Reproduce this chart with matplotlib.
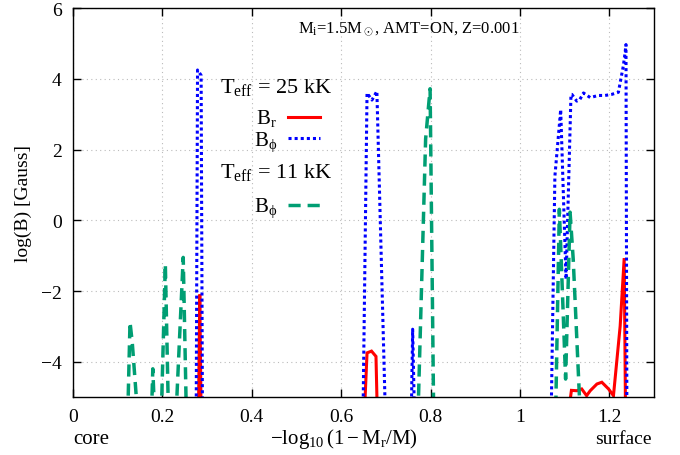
import numpy as np
import matplotlib
matplotlib.use('Agg')
import matplotlib.pyplot as plt

plt.rcParams['font.family'] = ['Liberation Serif', 'DejaVu Serif']
plt.rcParams['mathtext.fontset'] = 'custom'
plt.rcParams['mathtext.rm'] = 'Liberation Serif'
plt.rcParams['mathtext.it'] = 'Liberation Serif:italic'
plt.rcParams['font.size'] = 14

nan = np.nan

# B_r, Teff = 25 kK
br25_x = [0.281, 0.284, 0.287, nan,
          0.652, 0.658, 0.668, 0.678, 0.681, nan,
          1.110, 1.115, 1.127, 1.138, 1.149, 1.157, 1.172, 1.183, 1.198,
          1.209, 1.224, 1.233, 1.236]
br25_y = [-5.5, -2.1, -5.5, nan,
          -5.5, -3.75, -3.7, -3.85, -5.5, nan,
          -5.3, -4.81, -4.82, -4.77, -4.96, -4.82, -4.63, -4.58, -4.77,
          -4.96, -2.99, -1.07, -5.5]

# B_phi, Teff = 25 kK
bp25_x = [0.276, 0.279, 0.287, 0.290, nan,
          0.649, 0.658, 0.669, 0.680, 0.699, nan,
          0.757, 0.760, 0.764, nan,
          1.070, 1.078, 1.091, 1.103, 1.114, 1.116, 1.127, 1.134, 1.142,
          1.157, 1.175, 1.190, 1.205, 1.220, 1.224, 1.231, 1.235, 1.237, 1.239]
bp25_y = [-5.5, 4.25, 4.1, -5.5, nan,
          -5.5, 3.6, 3.4, 3.65, -5.5, nan,
          -5.5, -3.08, -5.5, nan,
          -5.3, 1.24, 3.13, -1.67, 3.56, 3.56, 3.37, 3.42, 3.6,
          3.47, 3.53, 3.53, 3.56, 3.62, 3.89, 4.36, 4.74, 4.97, -5.5]

# B_phi, Teff = 11 kK
bp11_x = [0.123, 0.128, 0.133, 0.145, nan,
          0.176, 0.179, 0.183, nan,
          0.198, 0.207, 0.214, nan,
          0.231, 0.247, 0.254, nan,
          0.772, 0.789, 0.799, 0.807, nan,
          1.080, 1.088, 1.102, 1.112, 1.119, 1.134]
bp11_y = [-5.5, -2.88, -3.45, -5.5, nan,
          -5.5, -4.2, -5.5, nan,
          -5.5, -1.24, -5.5, nan,
          -5.5, -1.05, -5.5, nan,
          -5.5, 2.3, 3.72, -5.5, nan,
          -5.3, 0.31, -4.49, 0.23, -1.1, -5.3]

xticks = [0, 0.2, 0.4, 0.6, 0.8, 1, 1.2]
xticklabels = ['0', '0.2', '0.4', '0.6', '0.8', '1', '1.2']
yticks = [-4, -2, 0, 2, 4, 6]

fig = plt.figure(figsize=(6.8, 4.56), dpi=100)
ax = fig.add_axes([0.107, 0.127, 0.855, 0.853])

ax.plot(br25_x, br25_y, color='#ff0000', lw=2.2, solid_joinstyle='miter')
ax.plot(bp25_x, bp25_y, color='#0000ff', lw=2.2, ls=(0, (1, 1)))
ax.plot(bp11_x, bp11_y, color='#009e73', lw=2.5, ls=(0, (3.5, 2)))

ax.set_xlim(0, 1.3)
ax.set_ylim(-5, 6)
ax.set_xticks(xticks)
ax.set_xticklabels(xticklabels)
ax.set_yticks(yticks)
ax.tick_params(direction='in', top=True, right=True, length=6, width=1, pad=8)
ax.grid(True, ls=(0, (1, 3)), color='#bbbbbb', lw=0.8)
for s in ax.spines.values():
    s.set_linewidth(1.0)

ax.text(0.466, -0.118, r'$-\log_{10}(1-\mathrm{M_r/M})$', transform=ax.transAxes,
        ha='center', va='baseline', fontsize=15)
ax.set_ylabel('log(B) [Gauss]', labelpad=6)
ax.text(0.0, -0.117, 'core', transform=ax.transAxes, ha='left', va='baseline', fontsize=15)
ax.text(0.995, -0.117, 'surface', transform=ax.transAxes, ha='right', va='baseline')

ax.text(0.387, 0.938, r'M$_\mathrm{i}$=1.5M$_\odot$, AMT=ON, Z=0.001',
        transform=ax.transAxes, ha='left', va='baseline', fontsize=12)

# key
kfs = 16
bfs = 15
ax.text(0.253, 0.784, r'T$_\mathrm{eff}$ = 25 kK', transform=ax.transAxes,
        ha='left', va='baseline', fontsize=kfs)
ax.text(0.351, 0.704, r'B$_\mathrm{r}$', transform=ax.transAxes, ha='right',
        va='baseline', fontsize=bfs)
ax.plot([0.370, 0.425], [0.721, 0.721], transform=ax.transAxes,
        color='#ff0000', lw=2.2)
ax.text(0.351, 0.647, r'B$_\mathrm{\phi}$', transform=ax.transAxes, ha='right',
        va='baseline', fontsize=bfs)
ax.plot([0.370, 0.425], [0.665, 0.665], transform=ax.transAxes,
        color='#0000ff', lw=2.2, ls=(0, (1, 1)))
ax.text(0.253, 0.566, r'T$_\mathrm{eff}$ = 11 kK', transform=ax.transAxes,
        ha='left', va='baseline', fontsize=kfs)
ax.text(0.351, 0.479, r'B$_\mathrm{\phi}$', transform=ax.transAxes, ha='right',
        va='baseline', fontsize=bfs)
ax.plot([0.370, 0.425], [0.494, 0.494], transform=ax.transAxes,
        color='#009e73', lw=2.5, ls=(0, (3.5, 2)))

fig.savefig('out.png', dpi=100)
